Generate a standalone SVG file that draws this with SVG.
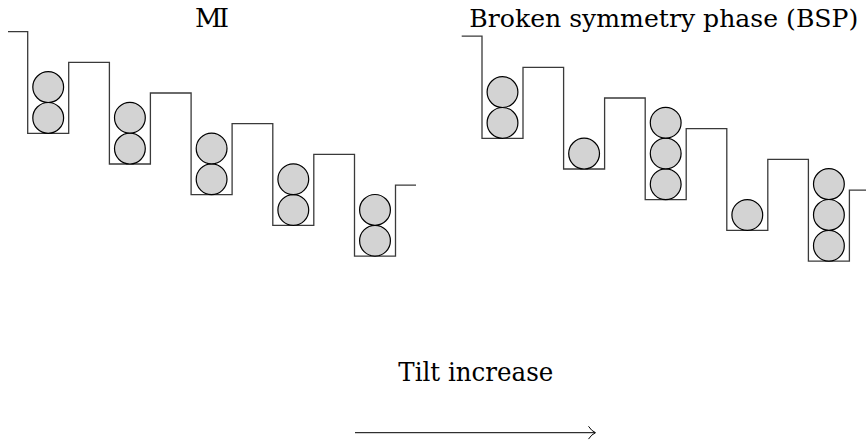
<svg xmlns="http://www.w3.org/2000/svg" width="866" height="443" viewBox="0 0 866 443">
<style>
.wall{fill:none;stroke:#3a3a3a;stroke-width:1.3;stroke-linejoin:miter}
.ball{fill:#d3d3d3;stroke:#000;stroke-width:1.2}
.arr{fill:none;stroke:#000;stroke-width:1}
.lbl{font-family:'DejaVu Serif','Liberation Serif',serif;fill:#000}
</style>
<rect width="866" height="443" fill="#fff"/>
<g id="title-mi"><text class="lbl" font-size="26" x="212" y="27.3" text-anchor="middle" textLength="34">MI</text></g>
<g id="title-bsp"><text class="lbl" font-size="24.5" x="469.3" y="27.3" textLength="389" lengthAdjust="spacingAndGlyphs">Broken symmetry phase (BSP)</text></g>
<g id="mi-lattice">
<path class="wall" d="M8,31.7 H27.7 V133.3 H68.7 V62.3 H109.4 V164 H150.4 V93 H191.1 V194.7 H232.1 V123.7 H272.8 V225.4 H313.8 V154.4 H354.5 V256.1 H395.5 V185.1 H416"/>
</g>
<g id="mi-well1"><circle class="ball" cx="48.2" cy="117.9" r="15.4"/><circle class="ball" cx="48.2" cy="87.1" r="15.4"/></g>
<g id="mi-well2"><circle class="ball" cx="129.9" cy="148.6" r="15.4"/><circle class="ball" cx="129.9" cy="117.8" r="15.4"/></g>
<g id="mi-well3"><circle class="ball" cx="211.6" cy="179.3" r="15.4"/><circle class="ball" cx="211.6" cy="148.5" r="15.4"/></g>
<g id="mi-well4"><circle class="ball" cx="293.3" cy="210" r="15.4"/><circle class="ball" cx="293.3" cy="179.2" r="15.4"/></g>
<g id="mi-well5"><circle class="ball" cx="375" cy="240.7" r="15.4"/><circle class="ball" cx="375" cy="209.9" r="15.4"/></g>
<g id="bsp-lattice">
<path class="wall" d="M461.7,36.2 H482 V138.3 H523 V67.3 H563.6 V169 H604.6 V98 H645.2 V199.7 H686.2 V128.7 H726.8 V230.4 H767.8 V159.4 H808.4 V261.1 H849.4 V190.1 H866"/>
</g>
<g id="bsp-well1"><circle class="ball" cx="502.5" cy="122.9" r="15.4"/><circle class="ball" cx="502.5" cy="92.1" r="15.4"/></g>
<g id="bsp-well2"><circle class="ball" cx="584.1" cy="153.6" r="15.4"/></g>
<g id="bsp-well3"><circle class="ball" cx="665.7" cy="184.3" r="15.4"/><circle class="ball" cx="665.7" cy="153.5" r="15.4"/><circle class="ball" cx="665.7" cy="122.7" r="15.4"/></g>
<g id="bsp-well4"><circle class="ball" cx="747.3" cy="215" r="15.4"/></g>
<g id="bsp-well5"><circle class="ball" cx="828.9" cy="245.7" r="15.4"/><circle class="ball" cx="828.9" cy="214.9" r="15.4"/><circle class="ball" cx="828.9" cy="184.1" r="15.4"/></g>
<g id="label-tilt"><text class="lbl" font-size="26" x="398.3" y="380.7" textLength="155" lengthAdjust="spacingAndGlyphs">Tilt increase</text></g>
<g id="connectors">
<line class="arr" x1="355" y1="432.7" x2="595" y2="432.7"/>
<path class="arr" d="M588.5,426.3 Q591.5,431 595.5,432.7 Q591.5,434.4 588.5,439.1"/>
</g>
</svg>
